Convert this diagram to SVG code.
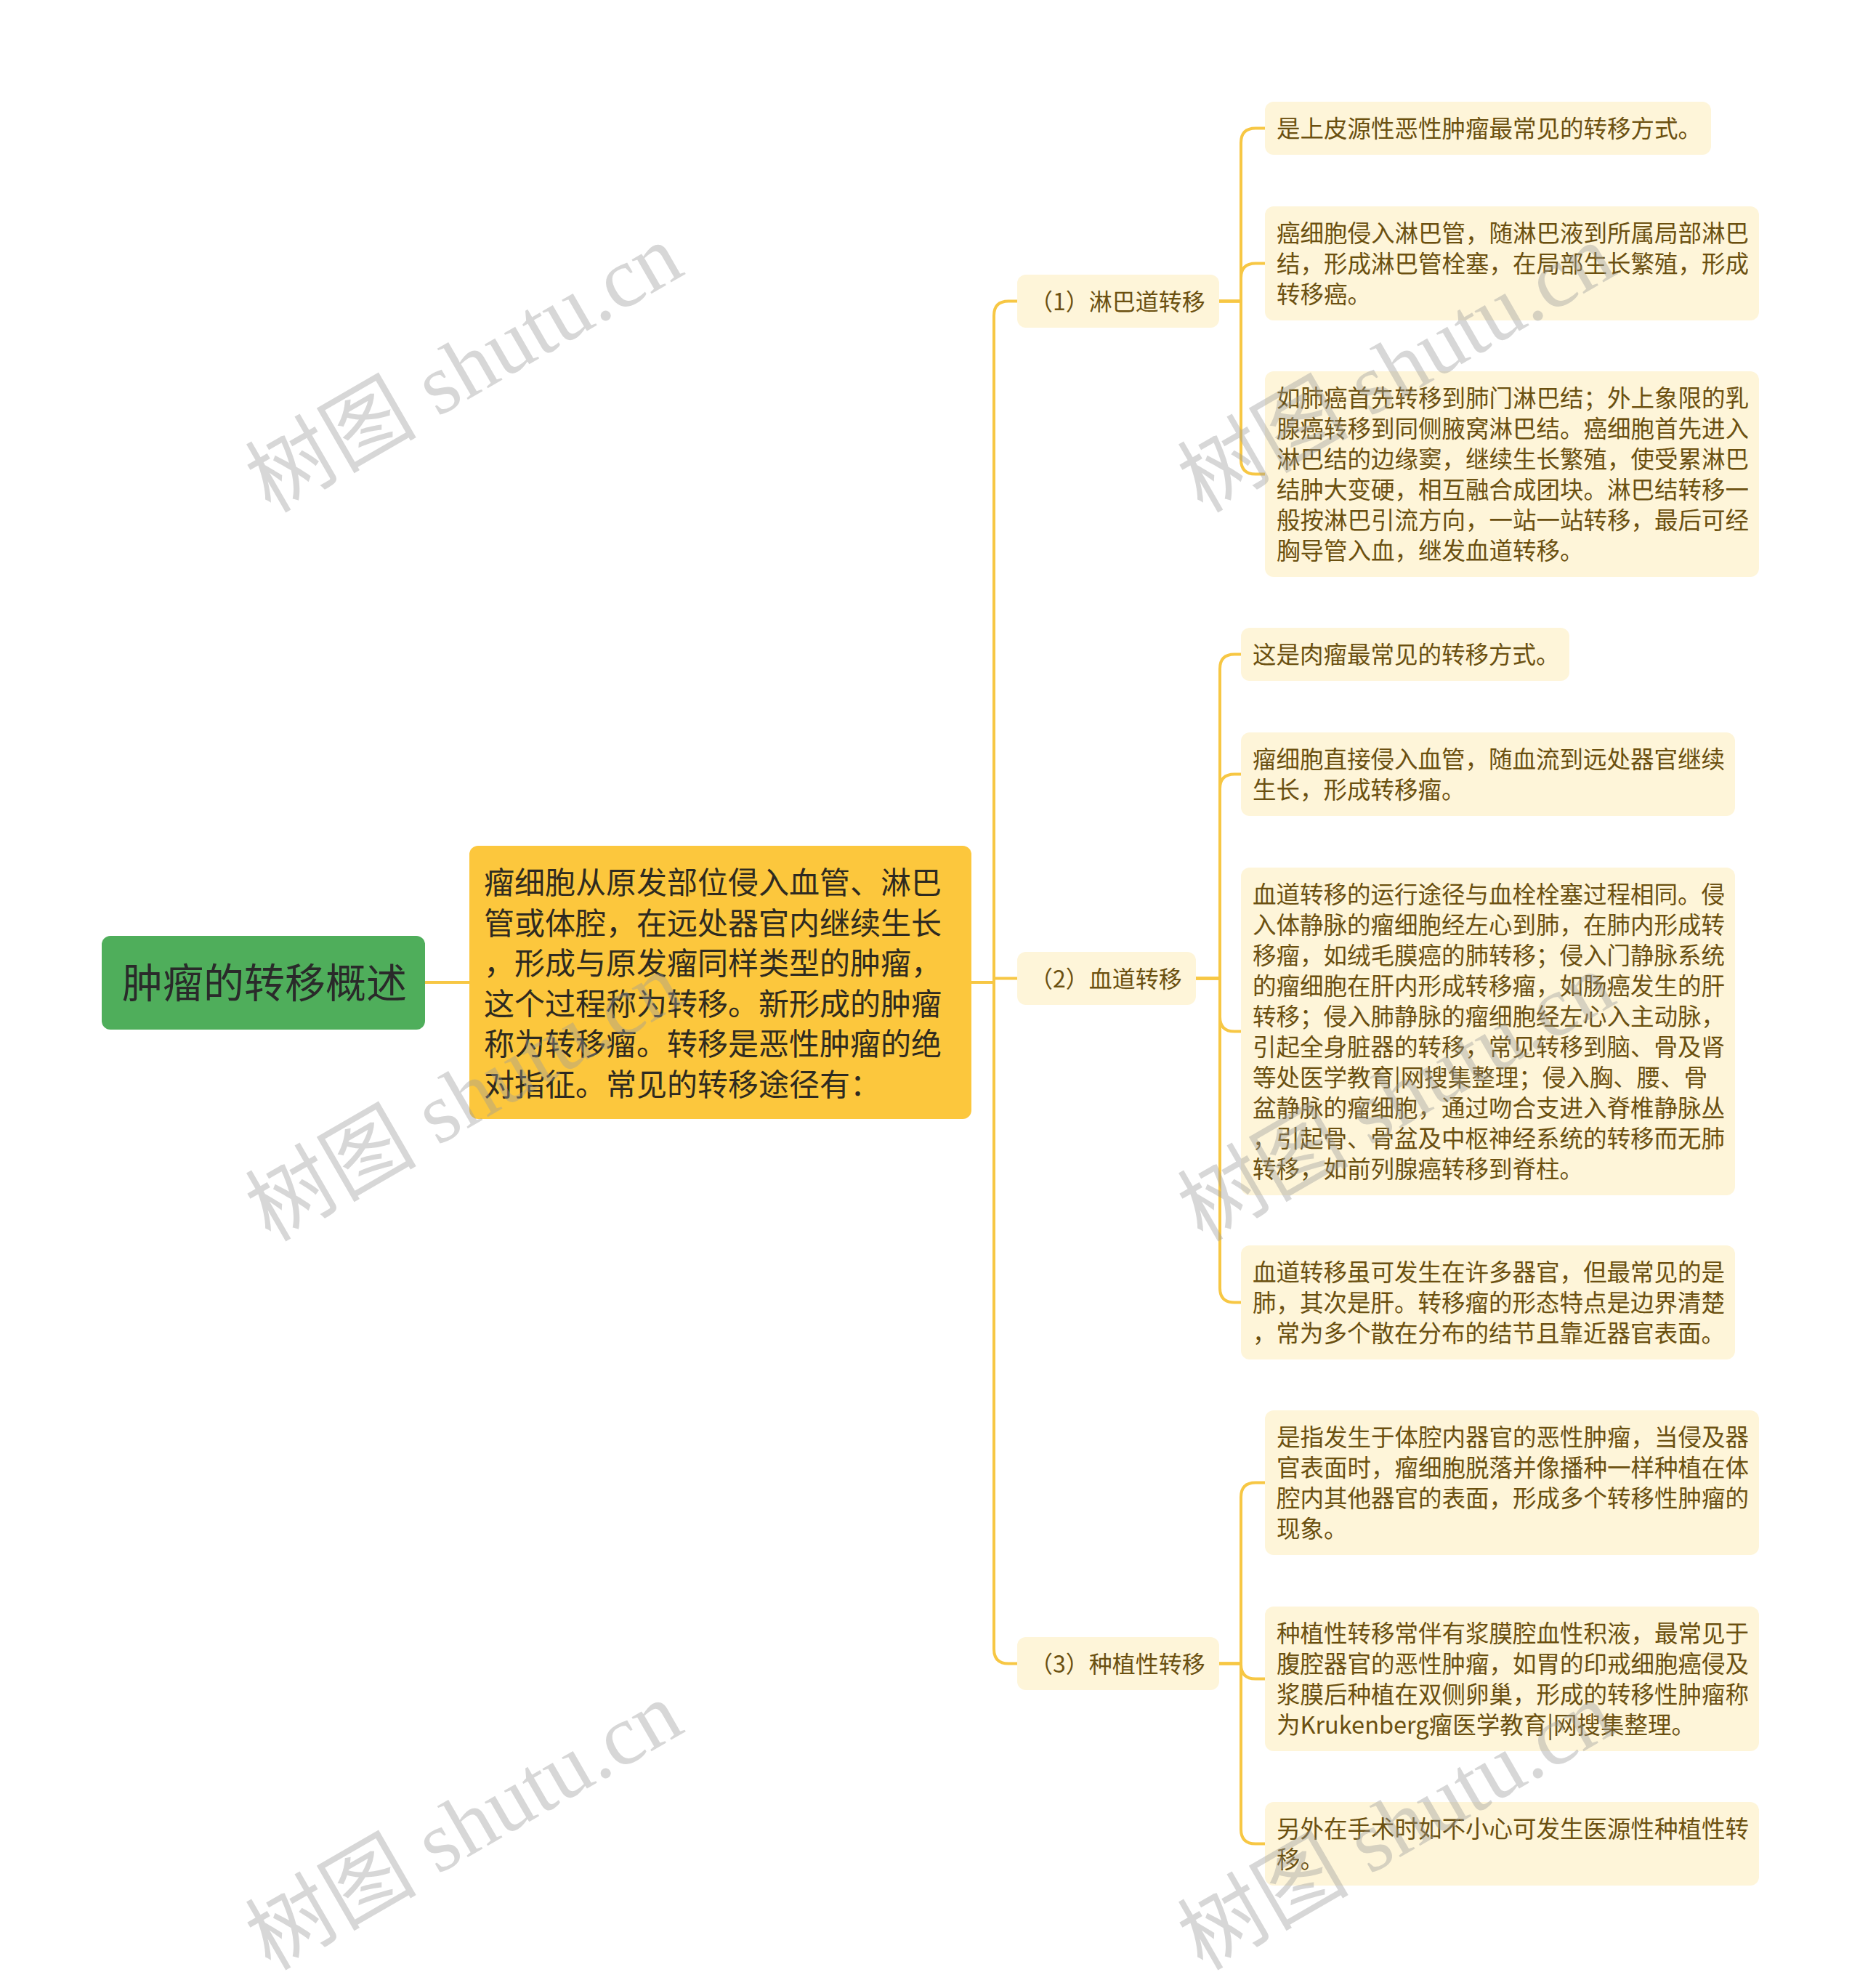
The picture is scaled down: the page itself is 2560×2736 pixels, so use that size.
<svg xmlns="http://www.w3.org/2000/svg" width="2560" height="2736" viewBox="0 0 2560 2736">
<style>
.bg{fill:#ffffff}
.conn{fill:none;stroke:#F7C744;stroke-width:4;stroke-linejoin:round}
.root-box{fill:#4FAE5B}
.root-text{font-family:"Noto Sans CJK SC","Noto Sans",sans-serif;font-size:56px;fill:#2a2a2a}
.main-box{fill:#FCC73D}
.main-text{font-family:"Noto Sans CJK SC","Noto Sans",sans-serif;font-size:42px;fill:#2e2a20}
.sub-box{fill:#FEF5D9}
.sub-text{font-family:"Noto Sans CJK SC","Noto Sans",sans-serif;font-size:32px;fill:#6B5010}
.leaf-box{fill:#FEF5D9}
.leaf-text{font-family:"Noto Sans CJK SC","Noto Sans",sans-serif;font-size:32.5px;fill:#6B5010}
.wm{font-family:"Liberation Serif","Noto Sans CJK SC",serif;font-size:118px;fill:#9a9a9a;fill-opacity:0.4}
</style>
<rect class="bg" x="0" y="0" width="2560" height="2736"/>

<g id="connectors">
<path class="conn" d="M585,1352 H646"/>
<path class="conn" d="M1337,1352 H1368 V434.5 Q1368,414.5 1388,414.5 H1400"/>
<path class="conn" d="M1337,1352 H1368 M1368,1346.5 H1400"/>
<path class="conn" d="M1337,1352 H1368 V2269.5 Q1368,2289.5 1388,2289.5 H1400"/>
<path class="conn" d="M1678,414.5 H1708 V196.5 Q1708,176.5 1728,176.5 H1741"/>
<path class="conn" d="M1678,414.5 H1708 V382.5 Q1708,362.5 1728,362.5 H1741"/>
<path class="conn" d="M1678,414.5 H1708 V632.5 Q1708,652.5 1728,652.5 H1741"/>
<path class="conn" d="M1646,1346.5 H1679 V920.5 Q1679,900.5 1699,900.5 H1708"/>
<path class="conn" d="M1646,1346.5 H1679 V1085.5 Q1679,1065.5 1699,1065.5 H1708"/>
<path class="conn" d="M1646,1346.5 H1679 V1399.5 Q1679,1419.5 1699,1419.5 H1708"/>
<path class="conn" d="M1646,1346.5 H1679 V1772.5 Q1679,1792.5 1699,1792.5 H1708"/>
<path class="conn" d="M1678,2289.5 H1708 V2060.5 Q1708,2040.5 1728,2040.5 H1741"/>
<path class="conn" d="M1678,2289.5 H1708 V2290.5 Q1708,2310.5 1728,2310.5 H1741"/>
<path class="conn" d="M1678,2289.5 H1708 V2517.5 Q1708,2537.5 1728,2537.5 H1741"/>
</g>

<g id="root">
<rect class="root-box" x="140" y="1288" width="445" height="129" rx="12"/>
<text class="root-text" x="168" y="1373">肿瘤的转移概述</text>
</g>

<g id="main">
<rect class="main-box" x="646" y="1164" width="691" height="376" rx="12"/>
<text class="main-text">
<tspan x="666" y="1230">瘤细胞从原发部位侵入血管、淋巴</tspan>
<tspan x="666" y="1286">管或体腔，在远处器官内继续生长</tspan>
<tspan x="666" y="1341">，形成与原发瘤同样类型的肿瘤，</tspan>
<tspan x="666" y="1397">这个过程称为转移。新形成的肿瘤</tspan>
<tspan x="666" y="1452">称为转移瘤。转移是恶性肿瘤的绝</tspan>
<tspan x="666" y="1508">对指征。常见的转移途径有：</tspan>
</text>
</g>

<g id="lymph">
<rect class="sub-box" x="1400" y="378" width="278" height="73" rx="12"/>
<text class="sub-text" x="1417" y="426.5">（1）淋巴道转移</text>
</g>
<g id="blood">
<rect class="sub-box" x="1400" y="1310" width="246" height="73" rx="12"/>
<text class="sub-text" x="1417" y="1358.5">（2）血道转移</text>
</g>
<g id="implant">
<rect class="sub-box" x="1400" y="2253" width="278" height="73" rx="12"/>
<text class="sub-text" x="1417" y="2301.5">（3）种植性转移</text>
</g>

<g id="lymph-a">
<rect class="leaf-box" x="1741" y="140" width="614" height="73" rx="12"/>
<text class="leaf-text" x="1757" y="188.5">是上皮源性恶性肿瘤最常见的转移方式。</text>
</g>
<g id="lymph-b">
<rect class="leaf-box" x="1741" y="284" width="680" height="157" rx="12"/>
<text class="leaf-text">
<tspan x="1757" y="332.5">癌细胞侵入淋巴管，随淋巴液到所属局部淋巴</tspan>
<tspan x="1757" y="374.5">结，形成淋巴管栓塞，在局部生长繁殖，形成</tspan>
<tspan x="1757" y="416.5">转移癌。</tspan>
</text>
</g>
<g id="lymph-c">
<rect class="leaf-box" x="1741" y="511" width="680" height="283" rx="12"/>
<text class="leaf-text">
<tspan x="1757" y="559.5">如肺癌首先转移到肺门淋巴结；外上象限的乳</tspan>
<tspan x="1757" y="601.5">腺癌转移到同侧腋窝淋巴结。癌细胞首先进入</tspan>
<tspan x="1757" y="643.5">淋巴结的边缘窦，继续生长繁殖，使受累淋巴</tspan>
<tspan x="1757" y="685.5">结肿大变硬，相互融合成团块。淋巴结转移一</tspan>
<tspan x="1757" y="727.5">般按淋巴引流方向，一站一站转移，最后可经</tspan>
<tspan x="1757" y="769.5">胸导管入血，继发血道转移。</tspan>
</text>
</g>

<g id="blood-a">
<rect class="leaf-box" x="1708" y="864" width="452" height="73" rx="12"/>
<text class="leaf-text" x="1724" y="912.5">这是肉瘤最常见的转移方式。</text>
</g>
<g id="blood-b">
<rect class="leaf-box" x="1708" y="1008" width="680" height="115" rx="12"/>
<text class="leaf-text">
<tspan x="1724" y="1056.5">瘤细胞直接侵入血管，随血流到远处器官继续</tspan>
<tspan x="1724" y="1098.5">生长，形成转移瘤。</tspan>
</text>
</g>
<g id="blood-c">
<rect class="leaf-box" x="1708" y="1194" width="680" height="451" rx="12"/>
<text class="leaf-text">
<tspan x="1724" y="1242.5">血道转移的运行途径与血栓栓塞过程相同。侵</tspan>
<tspan x="1724" y="1284.5">入体静脉的瘤细胞经左心到肺，在肺内形成转</tspan>
<tspan x="1724" y="1326.5">移瘤，如绒毛膜癌的肺转移；侵入门静脉系统</tspan>
<tspan x="1724" y="1368.5">的瘤细胞在肝内形成转移瘤，如肠癌发生的肝</tspan>
<tspan x="1724" y="1410.5">转移；侵入肺静脉的瘤细胞经左心入主动脉，</tspan>
<tspan x="1724" y="1452.5">引起全身脏器的转移，常见转移到脑、骨及肾</tspan>
<tspan x="1724" y="1494.5">等处医学教育|网搜集整理；侵入胸、腰、骨</tspan>
<tspan x="1724" y="1536.5">盆静脉的瘤细胞，通过吻合支进入脊椎静脉丛</tspan>
<tspan x="1724" y="1578.5">，引起骨、骨盆及中枢神经系统的转移而无肺</tspan>
<tspan x="1724" y="1620.5">转移，如前列腺癌转移到脊柱。</tspan>
</text>
</g>
<g id="blood-d">
<rect class="leaf-box" x="1708" y="1714" width="680" height="157" rx="12"/>
<text class="leaf-text">
<tspan x="1724" y="1762.5">血道转移虽可发生在许多器官，但最常见的是</tspan>
<tspan x="1724" y="1804.5">肺，其次是肝。转移瘤的形态特点是边界清楚</tspan>
<tspan x="1724" y="1846.5">，常为多个散在分布的结节且靠近器官表面。</tspan>
</text>
</g>

<g id="implant-a">
<rect class="leaf-box" x="1741" y="1941" width="680" height="199" rx="12"/>
<text class="leaf-text">
<tspan x="1757" y="1989.5">是指发生于体腔内器官的恶性肿瘤，当侵及器</tspan>
<tspan x="1757" y="2031.5">官表面时，瘤细胞脱落并像播种一样种植在体</tspan>
<tspan x="1757" y="2073.5">腔内其他器官的表面，形成多个转移性肿瘤的</tspan>
<tspan x="1757" y="2115.5">现象。</tspan>
</text>
</g>
<g id="implant-b">
<rect class="leaf-box" x="1741" y="2211" width="680" height="199" rx="12"/>
<text class="leaf-text">
<tspan x="1757" y="2259.5">种植性转移常伴有浆膜腔血性积液，最常见于</tspan>
<tspan x="1757" y="2301.5">腹腔器官的恶性肿瘤，如胃的印戒细胞癌侵及</tspan>
<tspan x="1757" y="2343.5">浆膜后种植在双侧卵巢，形成的转移性肿瘤称</tspan>
<tspan x="1757" y="2385.5">为Krukenberg瘤医学教育|网搜集整理。</tspan>
</text>
</g>
<g id="implant-c">
<rect class="leaf-box" x="1741" y="2480" width="680" height="115" rx="12"/>
<text class="leaf-text">
<tspan x="1757" y="2528.5">另外在手术时如不小心可发生医源性种植性转</tspan>
<tspan x="1757" y="2570.5">移。</tspan>
</text>
</g>

<g id="watermarks">
<text class="wm" x="372" y="707" transform="rotate(-30 372 707)">树图 shutu.cn</text>
<text class="wm" x="372" y="1710" transform="rotate(-30 372 1710)">树图 shutu.cn</text>
<text class="wm" x="372" y="2713" transform="rotate(-30 372 2713)">树图 shutu.cn</text>
<text class="wm" x="1655" y="707" transform="rotate(-30 1655 707)">树图 shutu.cn</text>
<text class="wm" x="1655" y="1710" transform="rotate(-30 1655 1710)">树图 shutu.cn</text>
<text class="wm" x="1655" y="2713" transform="rotate(-30 1655 2713)">树图 shutu.cn</text>
</g>
</svg>
